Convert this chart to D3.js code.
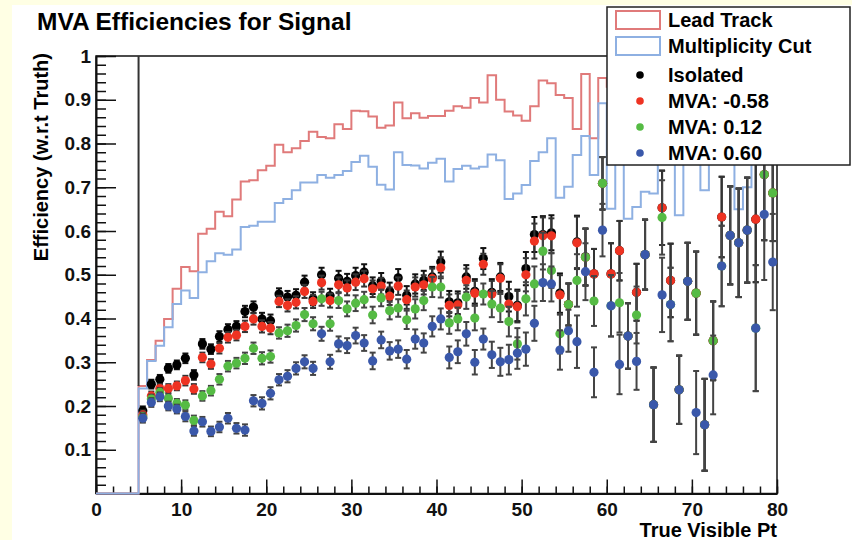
<!DOCTYPE html>
<html>
<head>
<meta charset="utf-8">
<script src="https://cdn.jsdelivr.net/npm/d3@7"></script>
<style>
  body { margin: 0; background: #ffffe4; }
  text { font-family: "Liberation Sans", Arial, sans-serif; font-weight: bold; }
</style>
</head>
<body>
<script>
// Constants
const width = 852;
const height = 540;
const plot = {left: 96, right: 777, top: 56, bottom: 493.5};

// Bins: 1 GeV wide, first filled bin starts at 5
const histStart = 5;
const ptBins = d3.range(5, 80);           // low edge of each bin
const xTicks = d3.range(0, 81, 10);
const yTicks = [0.1, 0.2, 0.3, 0.4, 0.5, 0.6, 0.7, 0.8, 0.9, 1];

const seriesNames = ["Lead Track", "Multiplicity Cut", "Isolated", "MVA: -0.58", "MVA: 0.12", "MVA: 0.60"];

// Histograms (bins 5..79)
const leadTrack = [
  0.246, 0.305, 0.349, 0.399, 0.468, 0.518, 0.508, 0.594, 0.605, 0.644,
  0.634, 0.672, 0.713, 0.716, 0.739, 0.749, 0.797, 0.780, 0.789, 0.806,
  0.827, 0.815, 0.812, 0.844, 0.833, 0.875, 0.874, 0.862, 0.836, 0.841,
  0.894, 0.858, 0.869, 0.859, 0.863, 0.863, 0.875, 0.885, 0.882, 0.904,
  0.894, 0.956, 0.900, 0.873, 0.864, 0.852, 0.885, 0.944, 0.938, 0.911,
  0.904, 0.833, 0.959, 0.812, 0.950, 0.930, 0.900, 0.950, 0.920, 0.960,
  0.900, 0.940, 0.920, 0.950, 0.900, 0.930, 0.960, 0.920, 0.950, 0.940,
  0.910, 0.950, 0.930, 0.960, 0.940
];
const multCut = [
  0.240, 0.303, 0.338, 0.380, 0.433, 0.464, 0.447, 0.506, 0.531, 0.549,
  0.546, 0.558, 0.609, 0.612, 0.621, 0.621, 0.664, 0.673, 0.693, 0.711,
  0.711, 0.728, 0.722, 0.728, 0.737, 0.758, 0.772, 0.747, 0.706, 0.695,
  0.780, 0.751, 0.750, 0.743, 0.756, 0.765, 0.713, 0.742, 0.749, 0.743,
  0.747, 0.775, 0.762, 0.673, 0.686, 0.705, 0.760, 0.780, 0.812, 0.676,
  0.701, 0.774, 0.817, 0.728, 0.892, 0.651, 0.800, 0.628, 0.655, 0.690,
  0.686, 0.850, 0.800, 0.636, 0.850, 0.800, 0.693, 0.850, 0.800, 0.900,
  0.650, 0.700, 0.850, 0.820, 0.880
];

// Efficiency points (bin centres 5.5..79.5)
const isolated = [
  0.189, 0.250, 0.261, 0.286, 0.294, 0.309, 0.271, 0.342, 0.330, 0.359,
  0.375, 0.382, 0.416, 0.426, 0.399, 0.395, 0.456, 0.449, 0.453, 0.483,
  0.445, 0.500, 0.452, 0.492, 0.485, 0.498, 0.506, 0.475, 0.485, 0.462,
  0.493, 0.453, 0.479, 0.487, 0.495, 0.529, 0.438, 0.436, 0.495, 0.462,
  0.537, 0.460, 0.495, 0.450, 0.430, 0.514, 0.592, 0.592, 0.596, 0.458,
  0.432, 0.575, 0.541, 0.502, 0.709, 0.502, 0.555, 0.360, 0.460, 0.546,
  0.203, 0.653, 0.487, 0.237, 0.485, 0.458, 0.157, 0.349, 0.632, 0.590,
  0.573, 0.602, 0.627, 0.729, 0.687
];
const mvaLoose = [
  0.180, 0.223, 0.240, 0.240, 0.246, 0.258, 0.239, 0.311, 0.296, 0.332,
  0.357, 0.362, 0.382, 0.399, 0.382, 0.378, 0.439, 0.430, 0.437, 0.462,
  0.439, 0.482, 0.441, 0.477, 0.470, 0.483, 0.491, 0.468, 0.474, 0.451,
  0.474, 0.443, 0.472, 0.477, 0.491, 0.516, 0.430, 0.431, 0.487, 0.458,
  0.524, 0.456, 0.492, 0.433, 0.427, 0.500, 0.577, 0.589, 0.589, 0.454,
  0.432, 0.573, 0.540, 0.502, 0.709, 0.502, 0.555, 0.360, 0.460, 0.546,
  0.203, 0.653, 0.487, 0.237, 0.485, 0.458, 0.157, 0.349, 0.632, 0.590,
  0.573, 0.602, 0.627, 0.729, 0.687
];
const mvaMedium = [
  0.175, 0.216, 0.231, 0.217, 0.206, 0.202, 0.167, 0.223, 0.235, 0.261,
  0.291, 0.298, 0.309, 0.332, 0.309, 0.313, 0.367, 0.372, 0.384, 0.409,
  0.388, 0.445, 0.388, 0.441, 0.422, 0.435, 0.443, 0.408, 0.447, 0.418,
  0.424, 0.397, 0.422, 0.441, 0.472, 0.472, 0.390, 0.399, 0.449, 0.401,
  0.456, 0.433, 0.424, 0.393, 0.342, 0.445, 0.479, 0.554, 0.510, 0.365,
  0.432, 0.487, 0.540, 0.440, 0.709, 0.429, 0.436, 0.360, 0.408, 0.546,
  0.203, 0.631, 0.432, 0.237, 0.485, 0.458, 0.157, 0.349, 0.520, 0.590,
  0.573, 0.602, 0.378, 0.729, 0.687
];
const mvaTight = [
  0.172, 0.208, 0.221, 0.200, 0.193, 0.176, 0.143, 0.164, 0.142, 0.152,
  0.172, 0.149, 0.145, 0.212, 0.206, 0.229, 0.260, 0.268, 0.286, 0.301,
  0.286, 0.365, 0.301, 0.342, 0.338, 0.361, 0.344, 0.303, 0.351, 0.326,
  0.330, 0.307, 0.353, 0.344, 0.382, 0.399, 0.311, 0.324, 0.365, 0.300,
  0.353, 0.317, 0.301, 0.306, 0.321, 0.330, 0.389, 0.482, 0.479, 0.328,
  0.372, 0.347, 0.507, 0.277, 0.602, 0.429, 0.295, 0.360, 0.302, 0.546,
  0.203, 0.454, 0.432, 0.237, 0.485, 0.185, 0.157, 0.271, 0.520, 0.590,
  0.573, 0.602, 0.378, 0.638, 0.529
];
// error half-size per bin
const effErr = [
  0.010, 0.010, 0.010, 0.010, 0.010, 0.011, 0.011, 0.011, 0.011, 0.012,
  0.012, 0.012, 0.013, 0.013, 0.014, 0.014, 0.013, 0.014, 0.014, 0.015,
  0.015, 0.016, 0.016, 0.017, 0.017, 0.018, 0.018, 0.019, 0.019, 0.020,
  0.020, 0.021, 0.022, 0.022, 0.023, 0.024, 0.025, 0.026, 0.027, 0.028,
  0.024, 0.030, 0.032, 0.034, 0.036, 0.038, 0.040, 0.042, 0.040, 0.045,
  0.048, 0.060, 0.065, 0.057, 0.060, 0.070, 0.068, 0.075, 0.065, 0.080,
  0.085, 0.085, 0.084, 0.078, 0.088, 0.095, 0.105, 0.090, 0.092, 0.112,
  0.124, 0.120, 0.144, 0.150, 0.110
];

const histColors = ["#e07a7a", "#8eb0e2"];
const dotColors = ["#000000", "#ee3322", "#55bb44", "#3a58aa"];
const errColors = ["#111111", "#333333", "#444444", "#444444"];

//Create an SVG
var svg = d3.select("body")
    .append("svg")
    .attr("width", width)
    .attr("height", height)
    .style("display", "block");

svg.append("rect").attr("width", width).attr("height", height).attr("fill", "#ffffe4");
svg.append("rect").attr("x", 12).attr("y", 5).attr("width", width - 12).attr("height", height - 5).attr("fill", "#ffffff");

const x = d3.scaleLinear().domain([0, 80]).range([plot.left, plot.right]);
const y = d3.scaleLinear().domain([0, 1]).range([plot.bottom, plot.top]);

// title
svg.append("text")
    .attr("x", 37).attr("y", 30)
    .attr("font-size", 24.5)
    .text("MVA Efficiencies for Signal");

// frame
svg.append("rect")
    .attr("x", plot.left).attr("y", plot.top)
    .attr("width", plot.right - plot.left).attr("height", plot.bottom - plot.top)
    .attr("fill", "none").attr("stroke", "#111").attr("stroke-width", 1.5);

// axes, ticks inward like ROOT
const yMinor = d3.range(0, 1.001, 0.02);
const xMinor = d3.range(0, 80.01, 2);

svg.append("g").attr("transform", `translate(${plot.left},0)`)
    .call(d3.axisLeft(y).tickValues(yMinor).tickSizeInner(-10).tickSizeOuter(0).tickFormat(""))
    .call(g => g.select(".domain").remove());
svg.append("g").attr("transform", `translate(0,${plot.bottom})`)
    .call(d3.axisBottom(x).tickValues(xMinor).tickSizeInner(-7).tickSizeOuter(0).tickFormat(""))
    .call(g => g.select(".domain").remove());

const yAxis = svg.append("g").attr("transform", `translate(${plot.left},0)`)
    .call(d3.axisLeft(y).tickValues(yTicks).tickSizeInner(-20).tickSizeOuter(0).tickPadding(5)
        .tickFormat(d => d === 1 ? "1" : d3.format(".1f")(d)));
const xAxis = svg.append("g").attr("transform", `translate(0,${plot.bottom})`)
    .call(d3.axisBottom(x).tickValues(xTicks).tickSizeInner(-14).tickSizeOuter(0).tickPadding(9));

[yAxis, xAxis].forEach(g => {
    g.attr("font-family", null).attr("font-size", null);
    g.selectAll("text").attr("font-size", 19).attr("fill", "#111");
    g.select(".domain").attr("stroke", "#111").attr("stroke-width", 2);
});
svg.selectAll("g.tick line").attr("stroke", "#111").attr("stroke-width", 1.5);

// axis titles
svg.append("text")
    .attr("transform", "translate(48,53) rotate(-90)")
    .attr("text-anchor", "end")
    .attr("font-size", 20)
    .text("Efficiency (w.r.t Truth)");
svg.append("text")
    .attr("x", plot.right).attr("y", 537)
    .attr("text-anchor", "end")
    .attr("font-size", 20)
    .text("True Visible Pt");

// histograms
const histLine = d3.line()
    .x(d => x(d[0]))
    .y(d => y(d[1]))
    .curve(d3.curveStepAfter);

function histPoints(values)
{
    const pts = [[0, 0]];
    ptBins.forEach((b, i) => pts.push([b, values[i]]));
    pts.push([ptBins[ptBins.length - 1] + 1, values[values.length - 1]]);
    return pts;
}

let hists = svg.append("g").attr("fill", "none").attr("stroke-width", 2);
hists.append("path").attr("d", histLine(histPoints(leadTrack))).attr("stroke", histColors[0]);
hists.append("path").attr("d", histLine(histPoints(multCut))).attr("stroke", histColors[1]);

// dark edge at the first filled bin
svg.append("line")
    .attr("x1", x(histStart)).attr("x2", x(histStart))
    .attr("y1", y(1)).attr("y2", y(leadTrack[0]))
    .attr("stroke", "#333").attr("stroke-width", 2);

// efficiency points with error bars
const effSeries = [isolated, mvaLoose, mvaMedium, mvaTight];
const capW = 3;

effSeries.forEach((vals, s) => {
    const pts = ptBins.map((b, i) => ({c: b + 0.5, v: vals[i], e: effErr[i]}));
    let g = svg.append("g");
    let eb = g.selectAll("g").data(pts).enter().append("g")
        .attr("stroke", errColors[s]).attr("stroke-width", 2);
    eb.append("line")
        .attr("x1", d => x(d.c)).attr("x2", d => x(d.c))
        .attr("y1", d => y(d.v + d.e)).attr("y2", d => y(d.v - d.e));
    eb.append("line")
        .attr("x1", d => x(d.c) - capW).attr("x2", d => x(d.c) + capW)
        .attr("y1", d => y(d.v + d.e)).attr("y2", d => y(d.v + d.e));
    eb.append("line")
        .attr("x1", d => x(d.c) - capW).attr("x2", d => x(d.c) + capW)
        .attr("y1", d => y(d.v - d.e)).attr("y2", d => y(d.v - d.e));
    g.selectAll("circle").data(pts).enter().append("circle")
        .attr("cx", d => x(d.c)).attr("cy", d => y(d.v))
        .attr("r", 4.6)
        .attr("fill", dotColors[s]);
});

// legend
const legend = svg.append("g");
legend.append("rect")
    .attr("x", 607).attr("y", 7).attr("width", 243).attr("height", 158)
    .attr("fill", "#fff").attr("stroke", "#222").attr("stroke-width", 1.5);
const rowY = [20, 46, 75, 101, 127, 153];
seriesNames.forEach((name, i) => {
    if (i < 2) {
        legend.append("rect")
            .attr("x", 616).attr("y", rowY[i] - 9).attr("width", 44).attr("height", 18)
            .attr("fill", "none").attr("stroke", histColors[i]).attr("stroke-width", 2);
    } else {
        legend.append("circle")
            .attr("cx", 640).attr("cy", rowY[i]).attr("r", 3.8)
            .attr("fill", dotColors[i - 2]);
    }
    legend.append("text")
        .attr("x", 668).attr("y", rowY[i] + 7)
        .attr("font-size", 20)
        .text(name);
});
</script>
</body>
</html>
